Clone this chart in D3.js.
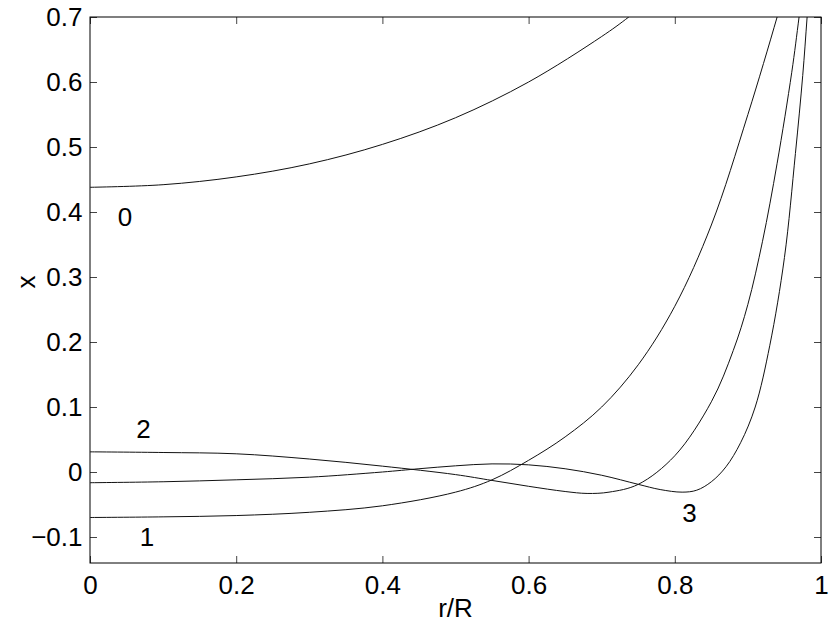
<!DOCTYPE html>
<html><head><meta charset="utf-8">
<script src="https://cdn.jsdelivr.net/npm/d3@7/dist/d3.min.js"></script>
<style>
html,body{margin:0;padding:0;background:#fff;}
svg{display:block;font-family:"Liberation Sans",Arial,Helvetica,sans-serif;}
</style></head>
<body>
<svg id="chart" width="830" height="633"></svg>
<script>
// ---- data ----
const curve0R = [0, 0.1, 0.2, 0.3, 0.4, 0.5, 0.6, 0.7, 0.737, 0.78];
const curve0V = [0.438, 0.442, 0.454, 0.474, 0.504, 0.545, 0.600, 0.670, 0.700, 0.740];

const curve1R = [0, 0.1, 0.2, 0.3, 0.4, 0.5, 0.55, 0.6, 0.65, 0.7, 0.75, 0.8, 0.85, 0.9, 0.94, 0.96];
const curve1V = [-0.070, -0.069, -0.067, -0.062, -0.052, -0.031, -0.012, 0.018, 0.054, 0.100, 0.165, 0.255, 0.380, 0.550, 0.700, 0.780];

const curve2R = [0, 0.1, 0.2, 0.3, 0.4, 0.5, 0.55, 0.6, 0.65, 0.68, 0.71, 0.75, 0.8, 0.85, 0.88, 0.9, 0.92, 0.94, 0.96, 0.97, 0.98];
const curve2V = [0.031, 0.030, 0.028, 0.020, 0.009, -0.004, -0.013, -0.022, -0.030, -0.033, -0.031, -0.019, 0.025, 0.108, 0.187, 0.258, 0.355, 0.475, 0.615, 0.700, 0.790];

const curve3R = [0, 0.1, 0.2, 0.3, 0.4, 0.45, 0.5, 0.55, 0.6, 0.65, 0.7, 0.75, 0.78, 0.81, 0.83, 0.85, 0.87, 0.89, 0.91, 0.93, 0.95, 0.965, 0.975, 0.981, 0.988];
const curve3V = [-0.0165, -0.015, -0.012, -0.008, 0.000, 0.005, 0.0095, 0.0125, 0.011, 0.005, -0.005, -0.019, -0.027, -0.031, -0.028, -0.015, 0.008, 0.045, 0.100, 0.195, 0.330, 0.490, 0.610, 0.700, 0.810];

const xTicks = [0, 0.2, 0.4, 0.6, 0.8, 1];
const xTickLabels = ["0", "0.2", "0.4", "0.6", "0.8", "1"];
const yTicks = [-0.1, 0, 0.1, 0.2, 0.3, 0.4, 0.5, 0.6, 0.7];
const yTickLabels = ["\u22120.1", "0", "0.1", "0.2", "0.3", "0.4", "0.5", "0.6", "0.7"];

const curveLabels = ["0", "1", "2", "3"];
const labelR = [0.048, 0.078, 0.073, 0.820];
const labelV = [0.393, -0.100, 0.066, -0.063];

// ---- layout ----
const L = 90, R = 821, T = 17, B = 563;
const x = d3.scaleLinear().domain([0, 1]).range([L, R]);
const y = d3.scaleLinear().domain([-0.14, 0.7]).range([B, T]);

const svg = d3.select("#chart");

svg.append("defs").append("clipPath").attr("id", "clip")
  .append("rect").attr("x", L).attr("y", T).attr("width", R - L).attr("height", B - T);

const series = [
  curve0R.map((r, i) => [r, curve0V[i]]),
  curve1R.map((r, i) => [r, curve1V[i]]),
  curve2R.map((r, i) => [r, curve2V[i]]),
  curve3R.map((r, i) => [r, curve3V[i]])
];

const line = d3.line().x(d => x(d[0])).y(d => y(d[1])).curve(d3.curveCatmullRom.alpha(0.5));

svg.append("g").attr("clip-path", "url(#clip)")
  .selectAll("path").data(series).join("path")
  .attr("d", line).attr("fill", "none").attr("stroke", "#111").attr("stroke-width", 1);

// axes
const fs = 26;
function styleAxis(g, hideLabels) {
  g.select(".domain").remove();
  g.selectAll(".tick line").attr("stroke", "#444").attr("stroke-width", 1);
  g.selectAll(".tick text").attr("font-size", fs).attr("fill", "#000")
    .attr("font-family", "'Liberation Sans', Arial, sans-serif");
  if (hideLabels) g.selectAll(".tick text").remove();
}

svg.append("g").attr("transform", `translate(0,${B})`)
  .call(d3.axisBottom(x).tickValues(xTicks).tickFormat((d, i) => xTickLabels[i]).tickSizeInner(-7).tickSizeOuter(0).tickPadding(13))
  .call(g => styleAxis(g, false));
svg.append("g").attr("transform", `translate(0,${T})`)
  .call(d3.axisTop(x).tickValues(xTicks).tickSizeInner(-7).tickSizeOuter(0))
  .call(g => styleAxis(g, true));
svg.append("g").attr("transform", `translate(${L},0)`)
  .call(d3.axisLeft(y).tickValues(yTicks).tickFormat((d, i) => yTickLabels[i]).tickSizeInner(-7).tickSizeOuter(0).tickPadding(7.5))
  .call(g => styleAxis(g, false));
svg.append("g").attr("transform", `translate(${R},0)`)
  .call(d3.axisRight(y).tickValues(yTicks).tickSizeInner(-7).tickSizeOuter(0))
  .call(g => styleAxis(g, true));

// frame
svg.append("rect").attr("x", L).attr("y", T).attr("width", R - L).attr("height", B - T)
  .attr("fill", "none").attr("stroke", "#000").attr("stroke-width", 1);

// axis labels
svg.append("text").attr("x", (x(0.4) + x(0.6)) / 2).attr("y", 617)
  .attr("text-anchor", "middle").attr("font-size", fs).text("r/R");
svg.append("text").attr("transform", "translate(35,282) rotate(-90)")
  .attr("text-anchor", "middle").attr("font-size", fs).text("x");

// curve labels
svg.append("g").selectAll("text").data(curveLabels).join("text")
  .attr("x", (d, i) => x(labelR[i])).attr("y", (d, i) => y(labelV[i]))
  .attr("text-anchor", "middle").attr("dominant-baseline", "central")
  .attr("font-size", fs).text(d => d);
</script>
</body></html>
